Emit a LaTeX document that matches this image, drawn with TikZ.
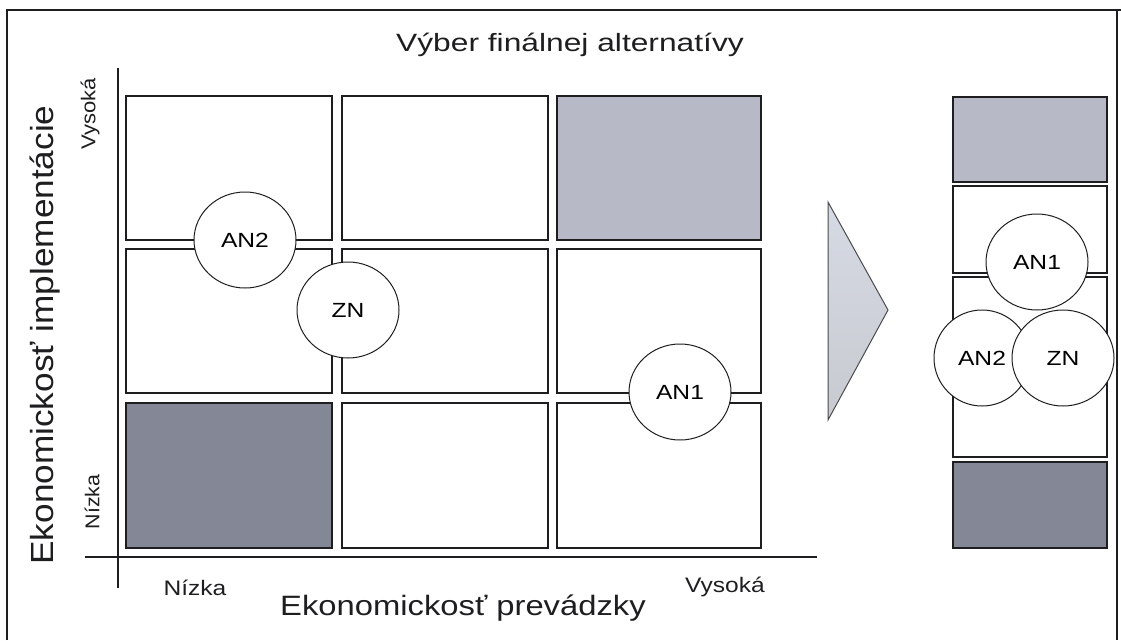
\documentclass[tikz,border=0pt]{standalone}
\usepackage{fontspec}
\setmainfont{Liberation Sans}
\usetikzlibrary{shapes.geometric}

\definecolor{inkline}{RGB}{30,30,32}
\definecolor{lightcell}{RGB}{184,185,199}
\definecolor{darkcell}{RGB}{132,136,150}
\definecolor{arrowtop}{RGB}{214,218,228}
\definecolor{arrowbot}{RGB}{200,202,208}

\tikzset{
  cellbox/.style={draw=inkline, line width=1.4pt},
  axisline/.style={draw=inkline, line width=2.2pt},
  frameline/.style={draw=inkline, line width=1.6pt},
  bubble/.style={ellipse, draw=inkline, line width=1pt, fill=white,
    minimum width=102pt, minimum height=96pt, inner sep=0pt,
    font=\fontsize{20.5}{22}\selectfont},
  bigtext/.style={inner sep=0pt, text=inkline},
}

\begin{document}
\begin{tikzpicture}[x=1pt, y=-1pt]
\useasboundingbox (0,0) rectangle (1121,640);

% outer frame
\draw[frameline] (7,640) -- (7,10) -- (1121,10);
\draw[frameline] (1117,10) -- (1117,640);

% title
\node[bigtext] (title) at (570,45)
  {\fontsize{25}{28}\selectfont\scalebox{1.27}[1]{Výber finálnej alternatívy}};

% matrix cells (columns: operation, rows: implementation)
\draw[cellbox] (126,96) rectangle (332,240);
\draw[cellbox] (342,96) rectangle (548,240);
\draw[cellbox, fill=lightcell] (557,96) rectangle (761,240);
\draw[cellbox] (126,249) rectangle (332,393);
\draw[cellbox] (342,249) rectangle (548,393);
\draw[cellbox] (557,249) rectangle (761,393);
\draw[cellbox, fill=darkcell] (126,403) rectangle (332,548);
\draw[cellbox] (342,403) rectangle (548,548);
\draw[cellbox] (557,403) rectangle (761,548);

% axes
\coordinate (ytop) at (118,68);
\coordinate (ybot) at (118,588);
\coordinate (xleft) at (85,557);
\coordinate (xright) at (817,557);
\draw[axisline] (ytop) -- (ybot);
\draw[axisline] (xleft) -- (xright);

% axis labels
\node[bigtext, rotate=90] (ylab) at (45,335)
  {\fontsize{32}{34}\selectfont\scalebox{1.1}[1]{Ekonomickosť implementácie}};
\node[bigtext] (xlab) at (463,608)
  {\fontsize{28}{30}\selectfont\scalebox{1.17}[1]{Ekonomickosť prevádzky}};
\node[bigtext, rotate=90] (yhigh) at (90,114)
  {\fontsize{20}{22}\selectfont\scalebox{1.1}[1]{Vysoká}};
\node[bigtext, rotate=90] (ylow) at (92,502)
  {\fontsize{20}{22}\selectfont\scalebox{1.07}[1]{Nízka}};
\node[bigtext] (xlow) at (195,588)
  {\fontsize{21}{22}\selectfont\scalebox{1.17}[1]{Nízka}};
\node[bigtext] (xhigh) at (725,587)
  {\fontsize{21}{22}\selectfont\scalebox{1.17}[1]{Vysoká}};

% alternatives placed in the matrix
\node[bubble] (an2) at (245,240) {\scalebox{1.2}[1]{AN2}};
\node[bubble] (zn) at (348,310) {\scalebox{1.2}[1]{ZN}};
\node[bubble] (an1) at (680,392) {\scalebox{1.2}[1]{AN1}};

% transition arrow
\shade[top color=arrowtop, bottom color=arrowbot, draw=inkline!80, line width=1pt]
  (828,202) -- (888,310) -- (828,420) -- cycle;

% resulting ranking column
\draw[cellbox, fill=lightcell] (953,97) rectangle (1107,182);
\draw[cellbox] (953,186) rectangle (1107,273);
\draw[cellbox] (953,277) rectangle (1107,457);
\draw[cellbox, fill=darkcell] (953,462) rectangle (1107,548);

\node[bubble] (ran1) at (1037,262) {\scalebox{1.2}[1]{AN1}};
\node[bubble, minimum width=96pt] (ran2) at (982,358) {\scalebox{1.2}[1]{AN2}};
\node[bubble] (rzn) at (1063,358) {\scalebox{1.2}[1]{ZN}};
\end{tikzpicture}
\end{document}
